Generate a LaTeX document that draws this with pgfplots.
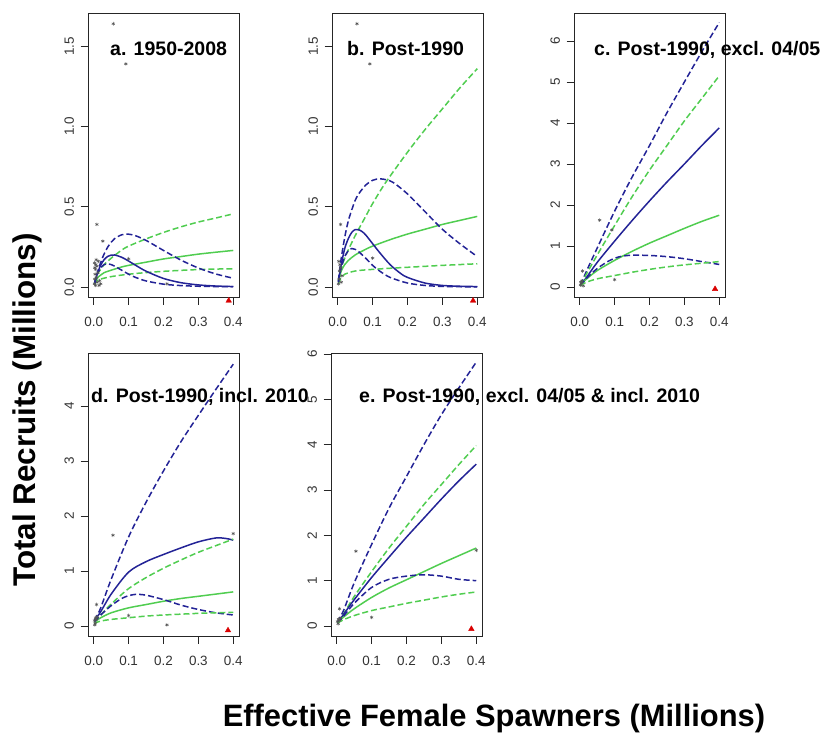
\documentclass[border=0pt]{standalone}
\usepackage{fontspec}
\setmainfont{Liberation Sans}
\usepackage{pgfplots}
\pgfplotsset{compat=1.18}
\definecolor{rblue}{RGB}{35,35,150}
\definecolor{rgreen}{RGB}{80,205,80}
\definecolor{rgray}{RGB}{85,85,85}
\pgfplotsset{
  rpanel/.style={scale only axis, width=151bp, height=284bp,
    xmin=-0.0165, xmax=0.4165,
    xtick={0,0.1,0.2,0.3,0.4}, xticklabels={0.0,0.1,0.2,0.3,0.4},
    tick align=outside, xtick pos=bottom, ytick pos=left,
    major tick length=7.5bp,
    axis line style={line width=0.9bp, black!85},
    every tick/.style={black!85, line width=0.9bp},
    tick label style={font=\fontsize{13.5}{15}\selectfont, text=black!80},
    yticklabel style={rotate=90, anchor=south},
    xticklabel shift=9bp, yticklabel shift=3bp,
    /pgf/number format/assume math mode=true,
    clip=false, anchor=north west},
  bs/.style={line width=1.5bp, color=rblue, no marks, smooth},
  bd/.style={line width=1.5bp, color=rblue, no marks, smooth, dash pattern=on 6bp off 3bp},
  gs/.style={line width=1.5bp, color=rgreen, no marks, smooth},
  gd/.style={line width=1.5bp, color=rgreen, no marks, smooth, dash pattern=on 6bp off 3bp},
  pts/.style={only marks, mark=asterisk, mark size=1.8bp, color=rgray, mark options={line width=0.5bp}},
  tri/.style={only marks, mark=triangle*, mark size=3.2bp, color=red!85!black},
}
\begin{document}
\begin{tikzpicture}
\path[use as bounding box] (0,0) rectangle (825bp,-734bp);

% ---------- a ----------
\begin{axis}[rpanel, at={(88bp,-13bp)}, ymin=-0.062, ymax=1.707,
  ytick={0,0.5,1,1.5}, yticklabels={0.0,0.5,1.0,1.5}]
\addplot[gd] coordinates {(0.002,0.025)(0.01,0.08)(0.02,0.11)(0.03,0.14)(0.05,0.18)(0.08,0.23)(0.1,0.255)(0.15,0.3)(0.2,0.34)(0.25,0.375)(0.3,0.405)(0.35,0.43)(0.4,0.456)};
\addplot[gd] coordinates {(0.002,0.015)(0.01,0.04)(0.02,0.05)(0.05,0.065)(0.1,0.08)(0.15,0.09)(0.2,0.098)(0.25,0.104)(0.3,0.109)(0.35,0.112)(0.4,0.114)};
\addplot[gs] coordinates {(0.002,0.02)(0.01,0.055)(0.02,0.075)(0.03,0.09)(0.05,0.105)(0.08,0.125)(0.1,0.135)(0.15,0.155)(0.2,0.175)(0.25,0.19)(0.3,0.205)(0.35,0.217)(0.4,0.228)};
\addplot[bd] coordinates {(0.002,0.02)(0.005,0.045)(0.01,0.0854)(0.02,0.1537)(0.03,0.2073)(0.04,0.2487)(0.05,0.2796)(0.06,0.3018)(0.08,0.3255)(0.1,0.3292)(0.12,0.3195)(0.15,0.2906)(0.2,0.228)(0.25,0.1679)(0.3,0.1186)(0.35,0.0815)(0.4,0.0548)};
\addplot[bd] coordinates {(0.002,0.02)(0.005,0.045)(0.01,0.08)(0.02,0.12)(0.03,0.14)(0.04,0.145)(0.05,0.14)(0.06,0.13)(0.08,0.105)(0.1,0.08)(0.12,0.06)(0.15,0.038)(0.2,0.018)(0.25,0.009)(0.3,0.005)(0.35,0.003)(0.4,0.002)};
\addplot[bs] coordinates {(0.002,0.02)(0.005,0.0448)(0.01,0.0819)(0.02,0.1367)(0.03,0.1714)(0.04,0.1909)(0.05,0.1992)(0.06,0.1997)(0.08,0.1857)(0.1,0.162)(0.12,0.1356)(0.15,0.0988)(0.2,0.0535)(0.25,0.0272)(0.3,0.0133)(0.35,0.0063)(0.4,0.0029)};
\addplot[pts] coordinates {(0.056,1.64)(0.092,1.39)(0.009,0.39)(0.026,0.286)(0.1,0.176)(0.21,0.02)(0.002,0.02)(0.003,0.05)(0.004,0.08)(0.005,0.11)(0.006,0.14)(0.007,0.17)(0.003,0.12)(0.008,0.06)(0.01,0.03)(0.012,0.09)(0.015,0.01)(0.005,0.01)(0.002,0.15)(0.009,0.13)(0.013,0.16)(0.017,0.04)(0.02,0.02)};
\addplot[tri] coordinates {(0.387,-0.085)};
\end{axis}

% ---------- b ----------
\begin{axis}[rpanel, at={(332bp,-13bp)}, ymin=-0.062, ymax=1.707,
  ytick={0,0.5,1,1.5}, yticklabels={0.0,0.5,1.0,1.5}]
\addplot[gd] coordinates {(0.002,0.04)(0.01,0.12)(0.02,0.18)(0.03,0.23)(0.05,0.32)(0.08,0.44)(0.1,0.52)(0.137,0.65)(0.2,0.84)(0.25,0.98)(0.3,1.11)(0.35,1.24)(0.4,1.36)};
\addplot[gd] coordinates {(0.002,0.02)(0.01,0.06)(0.02,0.08)(0.04,0.095)(0.06,0.103)(0.1,0.11)(0.15,0.117)(0.2,0.123)(0.25,0.129)(0.3,0.135)(0.35,0.14)(0.4,0.145)};
\addplot[gs] coordinates {(0.002,0.03)(0.01,0.1)(0.02,0.14)(0.03,0.165)(0.05,0.2)(0.08,0.235)(0.1,0.255)(0.15,0.295)(0.2,0.33)(0.25,0.36)(0.3,0.39)(0.35,0.415)(0.4,0.44)};
\addplot[bd] coordinates {(0.002,0.04)(0.005,0.1)(0.01,0.18)(0.02,0.31)(0.03,0.41)(0.04,0.48)(0.05,0.54)(0.06,0.58)(0.08,0.635)(0.1,0.665)(0.12,0.674)(0.14,0.668)(0.16,0.65)(0.2,0.58)(0.25,0.47)(0.3,0.36)(0.35,0.27)(0.4,0.19)};
\addplot[bd] coordinates {(0.002,0.03)(0.005,0.07)(0.01,0.12)(0.02,0.19)(0.03,0.225)(0.04,0.24)(0.05,0.235)(0.06,0.22)(0.08,0.18)(0.1,0.135)(0.12,0.1)(0.15,0.06)(0.2,0.025)(0.25,0.01)(0.3,0.004)(0.35,0.002)(0.4,0.001)};
\addplot[bs] coordinates {(0.002,0.03)(0.005,0.08)(0.01,0.14)(0.02,0.24)(0.03,0.3)(0.04,0.34)(0.05,0.358)(0.06,0.357)(0.07,0.345)(0.08,0.325)(0.1,0.27)(0.12,0.215)(0.15,0.14)(0.18,0.085)(0.2,0.06)(0.25,0.025)(0.3,0.01)(0.35,0.005)(0.4,0.003)};
\addplot[pts] coordinates {(0.055,1.64)(0.092,1.39)(0.1,0.18)(0.008,0.39)(0.002,0.02)(0.004,0.05)(0.005,0.1)(0.006,0.14)(0.003,0.16)(0.008,0.12)(0.01,0.03)(0.012,0.07)};
\addplot[tri] coordinates {(0.388,-0.085)};
\end{axis}

% ---------- c ----------
\begin{axis}[rpanel, at={(574bp,-13bp)}, ymin=-0.244, ymax=6.683,
  ytick={0,1,2,3,4,5,6}]
\addplot[bd] coordinates {(0.002,0.05)(0.01,0.2)(0.02,0.4)(0.05,0.95)(0.1,1.85)(0.15,2.68)(0.2,3.45)(0.25,4.25)(0.3,5.0)(0.35,5.74)(0.4,6.45)};
\addplot[gd] coordinates {(0.002,0.05)(0.01,0.17)(0.02,0.33)(0.05,0.78)(0.1,1.5)(0.15,2.2)(0.2,2.85)(0.25,3.45)(0.3,4.05)(0.35,4.6)(0.4,5.15)};
\addplot[bs] coordinates {(0.002,0.05)(0.01,0.13)(0.02,0.24)(0.05,0.6)(0.1,1.12)(0.15,1.62)(0.2,2.1)(0.25,2.56)(0.3,3.0)(0.35,3.45)(0.4,3.88)};
\addplot[gs] coordinates {(0.002,0.04)(0.01,0.12)(0.02,0.2)(0.05,0.4)(0.1,0.65)(0.15,0.87)(0.2,1.07)(0.25,1.25)(0.3,1.43)(0.35,1.6)(0.4,1.75)};
\addplot[bd] coordinates {(0.002,0.04)(0.01,0.12)(0.02,0.22)(0.05,0.45)(0.08,0.62)(0.1,0.7)(0.12,0.75)(0.15,0.775)(0.2,0.77)(0.25,0.74)(0.3,0.69)(0.35,0.62)(0.4,0.55)};
\addplot[gd] coordinates {(0.002,0.03)(0.01,0.08)(0.02,0.12)(0.05,0.2)(0.1,0.28)(0.15,0.36)(0.2,0.43)(0.25,0.49)(0.3,0.54)(0.35,0.58)(0.4,0.62)};
\addplot[pts] coordinates {(0.057,1.63)(0.092,1.39)(0.1,0.18)(0.008,0.39)(0.002,0.05)(0.005,0.1)(0.006,0.15)(0.01,0.03)(0.003,0.12)};
\addplot[tri] coordinates {(0.388,-0.05)};
\end{axis}

% ---------- d ----------
\begin{axis}[rpanel, at={(88bp,-353bp)}, height=283bp, ymin=-0.182, ymax=4.963,
  ytick={0,1,2,3,4}]
\addplot[bd] coordinates {(0.002,0.1)(0.01,0.2)(0.02,0.33)(0.05,0.85)(0.1,1.62)(0.15,2.25)(0.2,2.82)(0.25,3.35)(0.3,3.83)(0.35,4.3)(0.4,4.76)};
\addplot[bs] coordinates {(0.002,0.1)(0.01,0.17)(0.02,0.26)(0.05,0.58)(0.1,0.98)(0.15,1.17)(0.2,1.3)(0.25,1.42)(0.3,1.53)(0.35,1.6)(0.38,1.59)(0.4,1.56)};
\addplot[gd] coordinates {(0.002,0.08)(0.01,0.14)(0.02,0.2)(0.05,0.4)(0.1,0.68)(0.15,0.88)(0.2,1.05)(0.25,1.2)(0.3,1.34)(0.35,1.46)(0.4,1.58)};
\addplot[gs] coordinates {(0.002,0.06)(0.01,0.11)(0.02,0.15)(0.05,0.24)(0.1,0.33)(0.15,0.39)(0.2,0.45)(0.25,0.5)(0.3,0.54)(0.35,0.58)(0.4,0.62)};
\addplot[bd] coordinates {(0.002,0.08)(0.01,0.13)(0.02,0.2)(0.05,0.37)(0.08,0.5)(0.1,0.55)(0.12,0.575)(0.15,0.56)(0.2,0.48)(0.25,0.38)(0.3,0.3)(0.35,0.24)(0.4,0.2)};
\addplot[gd] coordinates {(0.002,0.04)(0.01,0.07)(0.02,0.09)(0.05,0.12)(0.1,0.15)(0.15,0.18)(0.2,0.2)(0.25,0.215)(0.3,0.23)(0.35,0.24)(0.4,0.25)};
\addplot[pts] coordinates {(0.055,1.65)(0.4,1.68)(0.21,0.02)(0.1,0.19)(0.008,0.39)(0.002,0.1)(0.005,0.15)(0.008,0.12)(0.004,0.05)(0.01,0.17)(0.003,0.02)};
\addplot[tri] coordinates {(0.385,-0.08)};
\end{axis}

% ---------- e ----------
\begin{axis}[rpanel, at={(331bp,-353bp)}, height=283bp, ymin=-0.221, ymax=6.022,
  ytick={0,1,2,3,4,5,6}]
\addplot[bd] coordinates {(0.002,0.08)(0.01,0.2)(0.02,0.35)(0.05,0.95)(0.1,1.8)(0.15,2.6)(0.2,3.3)(0.25,4.0)(0.3,4.66)(0.35,5.25)(0.4,5.82)};
\addplot[gd] coordinates {(0.002,0.08)(0.01,0.15)(0.02,0.27)(0.05,0.65)(0.1,1.2)(0.15,1.72)(0.2,2.2)(0.25,2.68)(0.3,3.12)(0.35,3.56)(0.4,3.98)};
\addplot[bs] coordinates {(0.002,0.08)(0.01,0.15)(0.02,0.26)(0.05,0.58)(0.1,1.07)(0.15,1.52)(0.2,1.96)(0.25,2.38)(0.3,2.8)(0.35,3.2)(0.4,3.57)};
\addplot[gs] coordinates {(0.002,0.07)(0.01,0.13)(0.02,0.2)(0.05,0.38)(0.1,0.63)(0.15,0.84)(0.2,1.02)(0.25,1.2)(0.3,1.38)(0.35,1.55)(0.4,1.72)};
\addplot[bd] coordinates {(0.002,0.07)(0.01,0.13)(0.02,0.22)(0.05,0.5)(0.1,0.85)(0.15,1.03)(0.2,1.1)(0.25,1.13)(0.3,1.1)(0.35,1.03)(0.4,1.0)};
\addplot[gd] coordinates {(0.002,0.06)(0.01,0.1)(0.02,0.14)(0.05,0.23)(0.1,0.34)(0.15,0.42)(0.2,0.5)(0.25,0.57)(0.3,0.64)(0.35,0.7)(0.4,0.75)};
\addplot[pts] coordinates {(0.055,1.65)(0.1,0.19)(0.4,1.67)(0.008,0.38)(0.002,0.1)(0.005,0.15)(0.008,0.12)(0.004,0.05)(0.01,0.17)};
\addplot[tri] coordinates {(0.386,-0.066)};
\end{axis}

% titles
\begin{scope}[every node/.style={anchor=base west, inner sep=0pt, font=\bfseries\fontsize{19.6}{22}\selectfont}]
\node at (110bp,-55bp) {a. 1950-2008};
\node at (347bp,-55bp) {b. Post-1990};
\node at (594bp,-55bp) {c. Post-1990, excl. 04/05};
\node at (91bp,-402bp) {d. Post-1990, incl. 2010};
\node at (359bp,-402bp) {e. Post-1990, excl. 04/05 \& incl. 2010};
\end{scope}

\node[rotate=90, anchor=base, inner sep=0pt, font=\bfseries\fontsize{31.5}{34}\selectfont] at (35bp,-410bp) {Total Recruits (Millions)};
\node[anchor=base, inner sep=0pt, font=\bfseries\fontsize{31}{34}\selectfont] at (494bp,-726bp) {Effective Female Spawners (Millions)};
\end{tikzpicture}
\end{document}
